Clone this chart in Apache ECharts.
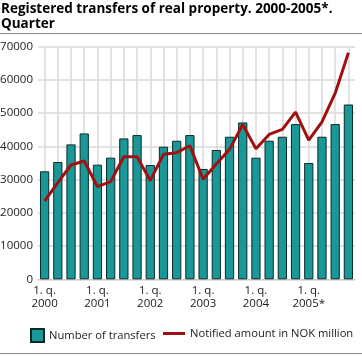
<!DOCTYPE html>
<html>
<head>
<meta charset="utf-8">
<script src="https://cdn.jsdelivr.net/npm/echarts@6/dist/echarts.min.js"></script>
<style>html,body{margin:0;padding:0;background:#fff}#c{width:362px;height:356px}</style>
</head>
<body>
<div id="c"></div>
<script>
const categories = [
  '1. q.\n2000','2. q.\n2000','3. q.\n2000','4. q.\n2000',
  '1. q.\n2001','2. q.\n2001','3. q.\n2001','4. q.\n2001',
  '1. q.\n2002','2. q.\n2002','3. q.\n2002','4. q.\n2002',
  '1. q.\n2003','2. q.\n2003','3. q.\n2003','4. q.\n2003',
  '1. q.\n2004','2. q.\n2004','3. q.\n2004','4. q.\n2004',
  '1. q.\n2005*','2. q.\n2005*','3. q.\n2005*','4. q.\n2005*'
];
const transfers = [32500,35300,40600,43900, 34500,36600,42400,43400, 34400,39900,41700,43400,
                   33200,38900,42900,47200, 36600,41700,42900,46700, 35000,42900,46700,52600];
const amountNOK = [23500,29100,34400,35600, 27900,29400,36900,36900, 29700,37600,38100,40200,
                   30100,34700,39100,46600, 39300,43600,45100,50300, 41900,47400,56000,68200];
const yTicks = {min: 0, max: 70000, interval: 10000};
const titleLines = ['Registered transfers of real property. 2000-2005*.', 'Quarter'];
const seriesNames = ['Number of transfers', 'Notified amount in NOK million'];

const FONT = '"Open Sans", sans-serif';
const chart = echarts.init(document.getElementById('c'), null, {renderer: 'canvas'});
chart.setOption({
  animation: false,
  backgroundColor: '#fff',
  textStyle: {fontFamily: FONT},
  graphic: [
    {type: 'text', left: 1, top: 2, style: {text: titleLines.join('\n'), font: 'bold 13.5px ' + FONT, fill: '#000', lineHeight: 15}},
    {type: 'rect', left: 0, top: 33, shape: {width: 362, height: 1}, style: {fill: '#888'}},
    {type: 'rect', left: 0, top: 353, shape: {width: 362, height: 1}, style: {fill: '#888'}}
  ],
  grid: {left: 38, right: 7, top: 46.7, bottom: 76.7, containLabel: false, outerBoundsMode: 'none'},
  legend: [
    {data: [{name: seriesNames[0], icon: 'rect'}], left: 30, top: 328, itemWidth: 13, itemHeight: 13, padding: 0,
     textStyle: {fontSize: 11.2, color: '#222', fontFamily: FONT}},
    {data: [{name: seriesNames[1], icon: 'rect', itemStyle: {color: '#a01010', borderWidth: 0}}], left: 163, top: 328, itemWidth: 22, itemHeight: 3, padding: 0,
     textStyle: {fontSize: 11.2, color: '#222', fontFamily: FONT}}
  ],
  xAxis: {
    type: 'category', data: categories, boundaryGap: true,
    axisLine: {show: true, lineStyle: {color: '#c8c8c8', width: 1}},
    axisTick: {show: false},
    splitLine: {show: true, alignWithLabel: true, interval: 0, lineStyle: {color: '#d8d8d8', width: 1.5}},
    axisLabel: {interval: 3, margin: 5, fontSize: 11.5, lineHeight: 13, color: '#222', fontFamily: FONT}
  },
  yAxis: {
    type: 'value', min: yTicks.min, max: yTicks.max, interval: yTicks.interval,
    axisLine: {show: false}, axisTick: {show: false},
    splitLine: {show: true, lineStyle: {color: '#d8d8d8', width: 1.5}},
    axisLabel: {margin: 5, fontSize: 11.5, color: '#222', fontFamily: FONT, formatter: v => String(v)}
  },
  series: [
    {name: seriesNames[0], type: 'bar', data: transfers, barWidth: '70%',
     itemStyle: {color: '#1a9898', borderColor: '#0a2a2a', borderWidth: 1}},
    {name: seriesNames[1], type: 'line', data: amountNOK, symbol: 'none',
     lineStyle: {color: '#a01010', width: 3}, itemStyle: {color: '#a01010'}}
  ]
});
</script>
</body>
</html>
